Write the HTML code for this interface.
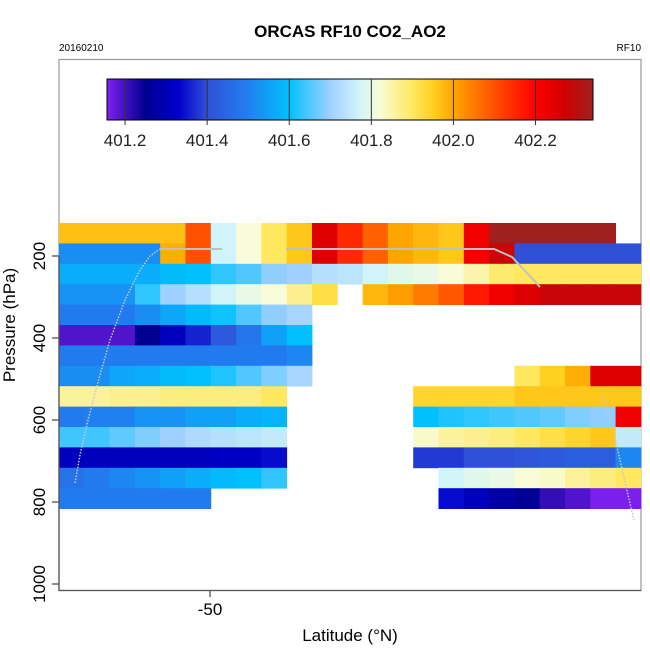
<!DOCTYPE html>
<html><head><meta charset="utf-8"><style>
body{margin:0;background:#fff;}
svg text{font-family:"Liberation Sans",sans-serif;}
</style></head><body>
<svg id="chart" width="650" height="650" viewBox="0 0 650 650">
<rect width="650" height="650" fill="#fff"/>
<text x="350" y="37" font-size="17" font-weight="bold" text-anchor="middle">ORCAS RF10 CO2_AO2</text>
<text x="59" y="51" font-size="10">20160210</text>
<text x="641" y="51" font-size="10" text-anchor="end">RF10</text>
<rect x="59" y="59.5" width="582" height="531" fill="none" stroke="#999" stroke-width="1.2"/>
<g id="cells"></g>
<g id="lines"></g>
<g id="cbar"></g>
<g id="axes"></g>
<text x="350" y="641" font-size="17" text-anchor="middle">Latitude (°N)</text>
<text transform="translate(15,325) rotate(-90)" font-size="17" text-anchor="middle">Pressure (hPa)</text>
</svg>
<script>
const N=null;
const rowTops=[125,175,225,275,325,375,425,475,525,575,625,675,725,775]; // pressure hPa (top of each bin)
const colStart=[0,1,2,3,4,5,6,7,8,9,10,11,12,13,14,15,16,17,18,19,20,21,22]; // column bin index
const values=[
[401.97,401.97,401.97,401.97,401.97,402.1,401.77,401.82,401.9,401.96,402.25,402.15,402.08,402.0,401.98,401.96,402.22,402.34,402.34,402.34,402.34,402.34,N],
[401.52,401.52,401.52,401.52,401.99,402.1,401.77,401.82,401.9,401.96,402.25,402.15,402.08,402.0,401.98,401.96,402.22,402.28,401.4,401.4,401.4,401.4,401.4],
[401.57,401.57,401.57,401.57,401.59,401.6,401.63,401.65,401.69,401.7,401.73,401.74,401.77,401.79,401.8,401.82,401.85,401.89,401.9,401.9,401.9,401.9,401.9],
[401.53,401.53,401.53,401.63,401.7,401.73,401.77,401.8,401.82,401.87,401.92,N,401.98,402.01,402.05,402.09,402.17,402.22,402.25,402.28,402.28,402.28,402.28],
[401.49,401.49,401.49,401.52,401.56,401.59,401.61,401.65,401.69,401.71,N,N,N,N,N,N,N,N,N,N,N,N,N],
[401.19,401.19,401.19,401.25,401.31,401.36,401.42,401.48,401.55,401.6,N,N,N,N,N,N,N,N,N,N,N,N,N],
[401.49,401.49,401.49,401.49,401.49,401.49,401.49,401.49,401.49,401.51,N,N,N,N,N,N,N,N,N,N,N,N,N],
[401.52,401.52,401.56,401.57,401.59,401.6,401.62,401.65,401.68,401.71,N,N,N,N,N,N,N,N,401.9,401.95,401.99,402.25,402.25],
[401.86,401.86,401.87,401.87,401.88,401.88,401.88,401.88,401.9,N,N,N,N,N,401.94,401.94,401.94,401.94,401.96,401.96,401.96,401.96,401.96],
[401.49,401.5,401.5,401.53,401.53,401.55,401.55,401.57,401.58,N,N,N,N,N,401.6,401.62,401.63,401.64,401.65,401.66,401.68,401.69,402.22],
[401.64,401.64,401.66,401.68,401.7,401.72,401.73,401.74,401.75,N,N,N,N,N,401.83,401.86,401.87,401.88,401.9,401.92,401.94,401.96,401.75],
[401.31,401.31,401.31,401.31,401.31,401.31,401.32,401.32,401.34,N,N,N,N,N,401.38,401.38,401.4,401.4,401.41,401.42,401.43,401.43,401.51],
[401.47,401.49,401.51,401.53,401.55,401.57,401.59,401.6,401.63,N,N,N,N,N,N,401.77,401.79,401.8,401.82,401.83,401.86,401.88,401.9],
[401.49,401.49,401.49,401.49,401.49,401.49,N,N,N,N,N,N,N,N,N,401.34,401.31,401.28,401.26,401.21,401.19,401.16,401.16]
];
const cbTicks=[401.2,401.4,401.6,401.8,402.0,402.2];
const yTicks=[200,400,600,800,1000];
const xTicks=[-50];
const stops=[[401.156,[128,32,240]],[401.2,[64,16,192]],[401.25,[0,0,144]],[401.33,[0,0,204]],[401.4,[48,80,216]],[401.5,[32,128,240]],[401.6,[0,192,255]],[401.7,[160,208,255]],[401.77,[208,244,250]],[401.82,[248,252,216]],[401.9,[255,232,96]],[401.95,[255,208,32]],[402.0,[255,165,0]],[402.1,[255,80,0]],[402.2,[255,0,0]],[402.27,[208,0,0]],[402.34,[160,32,32]]];
function color(v){
  if(v<=stops[0][0])return 'rgb('+stops[0][1]+')';
  for(let i=1;i<stops.length;i++){
    if(v<=stops[i][0]){const a=stops[i-1],b=stops[i];const t=(v-a[0])/(b[0]-a[0]);
      return 'rgb('+a[1].map((c,k)=>Math.round(c+(b[1][k]-c)*t)).join(',')+')';}
  }
  return 'rgb('+stops[stops.length-1][1]+')';
}
const NS='http://www.w3.org/2000/svg';
function mk(tag,attrs,parent){const e=document.createElementNS(NS,tag);for(const k in attrs)e.setAttribute(k,attrs[k]);parent.appendChild(e);return e;}
const yScale=p=>256+(p-200)*0.41;
const yCell=p=>223+(p-125)*0.408;
const colW=25.3;
const xCol=c=>59+c*colW;
const xLat=lat=>210+(lat+50)*10.12;
const cbX=v=>107+(v-401.156)*(486/1.184);
const cells=document.getElementById('cells');
values.forEach((row,r)=>{row.forEach((v,c)=>{
  if(v===null)return;
  const e=mk('rect',{x:xCol(colStart[c]),y:yCell(rowTops[r]),width:colW+0.4,height:50*0.408+0.4,fill:color(v)},cells);
  
  
});});
const lines=document.getElementById('lines');
const l1=mk('polyline',{points:'160,249 222,249',fill:'none',stroke:'#c0c0c0','stroke-width':2},lines);

const l2=mk('polyline',{points:'286,249 494,249 512,257 540,287',fill:'none',stroke:'#c0c0c0','stroke-width':2},lines);

const l3=mk('polyline',{points:'75,483 80,455 88,420 100,375 110,340 125,300 140,270 150,256 160,249',fill:'none',stroke:'#c8c8c8','stroke-width':1.5,'stroke-dasharray':'1.5,1.5'},lines);

const l4=mk('polyline',{points:'602,394 612,425 620,460 628,495 634,520',fill:'none',stroke:'#c8c8c8','stroke-width':1.5,'stroke-dasharray':'1.5,1.5'},lines);

const cb=document.getElementById('cbar');
const gr=mk('linearGradient',{id:'cbg',x1:0,x2:1,y1:0,y2:0},mk('defs',{},cb));
stops.forEach(s=>mk('stop',{offset:((s[0]-401.156)/1.184),'stop-color':'rgb('+s[1]+')'},gr));
const cbr=mk('rect',{x:107,y:79,width:486,height:41,fill:'url(#cbg)',stroke:'#000','stroke-width':1},cb);

cbTicks.forEach(t=>{
  mk('line',{x1:cbX(t),x2:cbX(t),y1:79,y2:125,stroke:'#333','stroke-width':1},cb);
  const tx=mk('text',{x:cbX(t),y:146,'font-size':17,'text-anchor':'middle',fill:'#222'},cb);tx.textContent=t.toFixed(1);
  
});
const ax=document.getElementById('axes');
mk('line',{x1:59,x2:59,y1:256,y2:591,stroke:'#555','stroke-width':1.3},ax);
mk('line',{x1:59,x2:641,y1:590.5,y2:590.5,stroke:'#555','stroke-width':1.3},ax);
yTicks.forEach(p=>{
  mk('line',{x1:52,x2:59,y1:yScale(p),y2:yScale(p),stroke:'#555','stroke-width':1.3},ax);
  const tx=mk('text',{transform:'translate(45,'+yScale(p)+') rotate(-90)','font-size':17,'text-anchor':'middle'},ax);tx.textContent=p;
  
});
xTicks.forEach(l=>{
  mk('line',{x1:xLat(l),x2:xLat(l),y1:590,y2:597,stroke:'#555','stroke-width':1.3},ax);
  const tx=mk('text',{x:xLat(l),y:615,'font-size':17,'text-anchor':'middle'},ax);tx.textContent=l;
  
});
</script>
</body></html>
